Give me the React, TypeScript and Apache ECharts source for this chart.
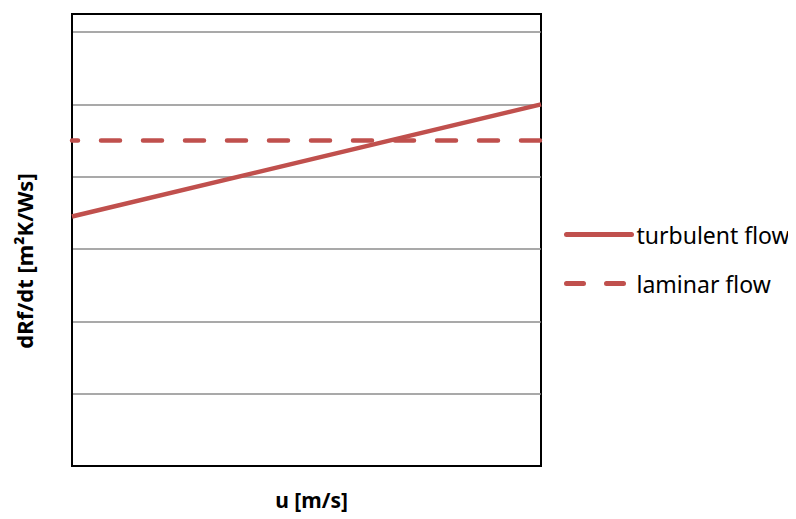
import React, { useEffect, useRef } from "react";
import * as echarts from "echarts";

const xValues = [0, 1];
const turbulentFlow = [3.45, 5.0];
const laminarFlow = [4.5, 4.5];
const seriesNames = ["turbulent flow", "laminar flow"];
const xAxisName = "u [m/s]";
const yAxisName = "dRf/dt [m²K/Ws]";

const RED = "#C0504D";
const FONT = "'Noto Sans', 'Open Sans', sans-serif";

export default function App() {
  const ref = useRef<HTMLDivElement>(null);
  useEffect(() => {
    if (!ref.current) return;
    const chart = echarts.init(ref.current, null, { renderer: "svg" });
    const toPairs = (ys: number[]) => xValues.map((x, i) => [x, ys[i]]);
    chart.setOption({
      animation: false,
      backgroundColor: "#ffffff",
      grid: {
        left: 64,
        top: 6,
        width: 469,
        height: 452,
        show: true,
        borderColor: "#000000",
        borderWidth: 2,
        backgroundColor: "transparent",
        outerBoundsMode: "none",
        containLabel: false,
      },
      legend: {
        orient: "vertical",
        left: 556,
        top: 215,
        padding: 0,
        itemWidth: 65,
        itemHeight: 14,
        itemGap: 26,
        itemStyle: { opacity: 0, borderWidth: 0 },
        textStyle: { fontFamily: FONT, fontSize: 23, color: "#000" },
        data: [
          { name: seriesNames[0], lineStyle: { color: RED, width: 5, cap: "round", type: "solid" } },
          {
            name: seriesNames[1],
            lineStyle: { color: RED, width: 5, cap: "round", type: [17, 23], dashOffset: 0 },
          },
        ],
      },
      xAxis: {
        type: "value",
        min: 0,
        max: 1,
        name: xAxisName,
        nameLocation: "middle",
        nameGap: 23,
        nameTextStyle: { fontFamily: FONT, fontSize: 21, fontWeight: "bold", color: "#000", padding: [0, 0, 0, 10] },
        axisLine: { show: true, lineStyle: { color: "#000", width: 2 } },
        axisTick: { show: false },
        axisLabel: { show: false },
        splitLine: { show: false },
      },
      yAxis: {
        type: "value",
        min: 0,
        max: 6.25,
        interval: 1,
        name: yAxisName,
        nameLocation: "middle",
        nameGap: 37,
        nameRotate: 90,
        nameTextStyle: { fontFamily: FONT, fontSize: 22, fontWeight: "bold", color: "#000", padding: [0, 0, 0, -42] },
        axisLine: { show: true, lineStyle: { color: "#000", width: 2 } },
        axisTick: { show: false },
        axisLabel: { show: false },
        splitLine: {
          show: true,
          showMinLine: false,
          showMaxLine: false,
          lineStyle: { color: "#8C8C8C", width: 1.5 },
        },
      },
      series: [
        {
          name: seriesNames[0],
          type: "line",
          data: toPairs(turbulentFlow),
          symbol: "none",
          lineStyle: { color: RED, width: 4.5 },
          itemStyle: { color: RED },
        },
        {
          name: seriesNames[1],
          type: "line",
          data: toPairs(laminarFlow),
          symbol: "none",
          lineStyle: { color: RED, width: 4.5, type: [19, 23], dashOffset: 13, cap: "round" },
          itemStyle: { color: RED },
        },
      ],
    });
    return () => chart.dispose();
  }, []);
  return <div ref={ref} style={{ width: 788, height: 511 }} />;
}
